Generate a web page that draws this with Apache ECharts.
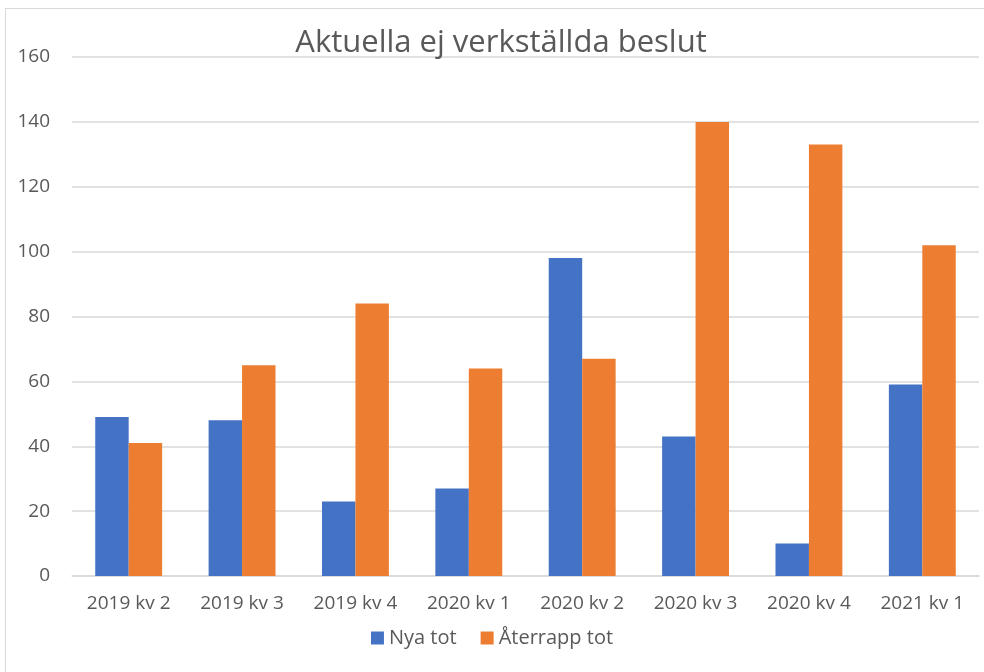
<!DOCTYPE html>
<html>
<head>
<meta charset="utf-8">
<script src="https://cdn.jsdelivr.net/npm/echarts@6/dist/echarts.min.js"></script>
<style>
  html, body { margin: 0; padding: 0; background: #fff; }
  #frame { position: absolute; left: 5px; top: 8px; width: 1000px; height: 700px; border: 1px solid #d9d9d9; }
  #chart { position: absolute; left: 0; top: 0; width: 984px; height: 672px; }
</style>
</head>
<body>
<div id="frame"></div>
<div id="chart"></div>
<script>
// Data
const categories = ['2019 kv 2', '2019 kv 3', '2019 kv 4', '2020 kv 1', '2020 kv 2', '2020 kv 3', '2020 kv 4', '2021 kv 1'];
const nyaTot = [49, 48, 23, 27, 98, 43, 10, 59];
const aterrappTot = [41, 65, 84, 64, 67, 140, 133, 102];

const font = 'Open Sans';
const textColor = '#595959';

const myChart = echarts.init(document.getElementById('chart'));
const option = {
  animation: false,
  title: {
    text: 'Aktuella ej verkställda beslut',
    left: 496,
    top: 23,
    textAlign: 'center',
    textStyle: { fontFamily: font, fontSize: 31, fontWeight: 'normal', color: textColor }
  },
  legend: {
    data: ['Nya tot', 'Återrapp tot'],
    bottom: 19,
    left: 'center',
    itemWidth: 13,
    itemHeight: 13,
    itemGap: 24,
    icon: 'rect',
    textStyle: { fontFamily: font, fontSize: 20, color: textColor }
  },
  grid: { left: 72, right: 5, top: 57, bottom: 96 },
  xAxis: {
    type: 'category',
    data: categories,
    axisLine: { lineStyle: { color: '#d9d9d9', width: 1.5 } },
    axisTick: { show: false },
    axisLabel: { fontFamily: font, fontSize: 19, color: textColor, margin: 18 }
  },
  yAxis: {
    type: 'value',
    min: 0,
    max: 160,
    interval: 20,
    axisLine: { show: false },
    axisTick: { show: false },
    splitLine: { lineStyle: { color: '#d9d9d9', width: 1.5 } },
    axisLabel: { fontFamily: font, fontSize: 19, color: textColor, margin: 22 }
  },
  series: [
    {
      name: 'Nya tot',
      type: 'bar',
      data: nyaTot,
      barGap: '0%',
      barCategoryGap: '41%',
      itemStyle: { color: '#4472c4' }
    },
    {
      name: 'Återrapp tot',
      type: 'bar',
      data: aterrappTot,
      itemStyle: { color: '#ed7d31' }
    }
  ]
};
option && myChart.setOption(option);
</script>
</body>
</html>
